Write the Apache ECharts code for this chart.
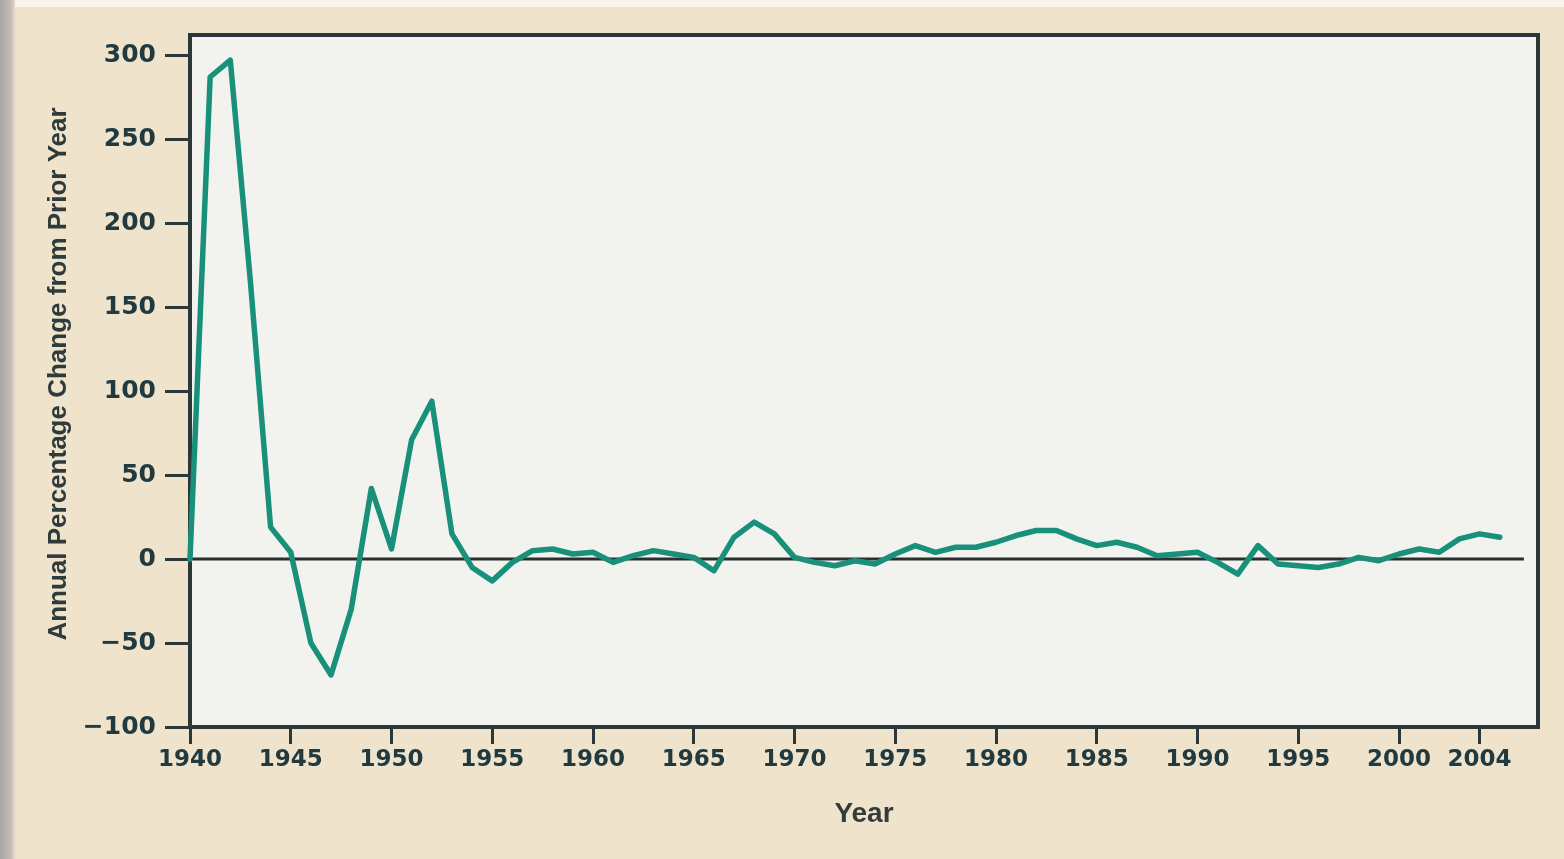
<!DOCTYPE html>
<html>
<head>
<meta charset="utf-8">
<script src="https://cdn.jsdelivr.net/npm/echarts@6/dist/echarts.min.js"></script>
<style>
  html, body { margin: 0; padding: 0; }
  body {
    width: 1564px; height: 859px; overflow: hidden;
    background: linear-gradient(to right, #a8a4a4 0, #c4beb8 11px, #efe3cc 16px);
  }
  .topstrip { position: absolute; left: 15px; top: 0; width: 1549px; height: 7px; background: #f8f4ec; }
  #chart { position: absolute; left: 0; top: 0; width: 1564px; height: 859px; }
</style>
</head>
<body>
<div class="topstrip"></div>
<div id="chart"></div>
<script>
// annual percentage change from prior year
const years = [
  1940, 1941, 1942, 1943, 1944, 1945, 1946, 1947, 1948, 1949,
  1950, 1951, 1952, 1953, 1954, 1955, 1956, 1957, 1958, 1959,
  1960, 1961, 1962, 1963, 1964, 1965, 1966, 1967, 1968, 1969,
  1970, 1971, 1972, 1973, 1974, 1975, 1976, 1977, 1978, 1979,
  1980, 1981, 1982, 1983, 1984, 1985, 1986, 1987, 1988, 1989,
  1990, 1991, 1992, 1993, 1994, 1995, 1996, 1997, 1998, 1999,
  2000, 2001, 2002, 2003, 2004, 2005
];
const pctChange = [
  0, 287, 297, 165, 19, 4, -50, -69, -30, 42,
  6, 71, 94, 15, -5, -13, -2, 5, 6, 3,
  4, -2, 2, 5, 3, 1, -7, 13, 22, 15,
  1, -2, -4, -1, -3, 3, 8, 4, 7, 7,
  10, 14, 17, 17, 12, 8, 10, 7, 2, 3,
  4, -2, -9, 8, -3, -4, -5, -3, 1, -1,
  3, 6, 4, 12, 15, 13
];
const xTicks = [1940, 1945, 1950, 1955, 1960, 1965, 1970, 1975, 1980, 1985, 1990, 1995, 2000, 2004];
const yTicks = [-100, -50, 0, 50, 100, 150, 200, 250, 300];
const zeroLine = [[1940, 0], [2006.2, 0]];

const ink = '#2b383a';
const labelColor = '#203a40';

const chart = echarts.init(document.getElementById('chart'));
chart.setOption({
  animation: false,
  grid: {
    left: 190, right: 26, top: 35, bottom: 132,
    show: true,
    backgroundColor: '#f2f3ee',
    borderColor: ink,
    borderWidth: 4
  },
  xAxis: {
    type: 'value',
    min: 1940,
    max: 2006.9,
    name: 'Year',
    nameLocation: 'middle',
    nameGap: 73,
    nameTextStyle: { fontFamily: 'Liberation Sans', fontWeight: 'bold', fontSize: 28, color: '#333b3b' },
    axisLine: { show: false, onZero: false },
    splitLine: { show: false },
    axisTick: {
      show: true, inside: false, length: 17, customValues: xTicks,
      lineStyle: { color: ink, width: 3 }
    },
    axisLabel: {
      customValues: xTicks,
      margin: 22,
      fontFamily: 'DejaVu Sans', fontWeight: 'bold', fontSize: 23, color: labelColor,
      formatter: v => String(v)
    }
  },
  yAxis: {
    type: 'value',
    min: -100,
    max: 312,
    name: 'Annual Percentage Change from Prior Year',
    nameLocation: 'middle',
    nameGap: 114,
    nameTextStyle: { fontFamily: 'Liberation Sans', fontWeight: 'bold', fontSize: 26, color: '#2f3a3a', padding: [0, 0, 0, 14] },
    axisLine: { show: false, onZero: false },
    splitLine: { show: false },
    axisTick: {
      show: true, inside: false, length: 25, customValues: yTicks,
      lineStyle: { color: ink, width: 3 }
    },
    axisLabel: {
      customValues: yTicks,
      margin: 34,
      fontFamily: 'DejaVu Sans', fontWeight: 'bold', fontSize: 25, color: labelColor,
      formatter: v => (v < 0 ? '\u2212' + Math.abs(v) : String(v))
    }
  },
  series: [
    {
      type: 'line',
      data: zeroLine,
      symbol: 'none',
      silent: true,
      z: 1,
      lineStyle: { color: '#2a2f30', width: 3 }
    },
    {
      type: 'line',
      data: years.map((y, i) => [y, pctChange[i]]),
      symbol: 'none',
      z: 2,
      lineStyle: { color: '#18907a', width: 5.5, join: 'round', cap: 'round' }
    }
  ]
});
</script>
</body>
</html>
